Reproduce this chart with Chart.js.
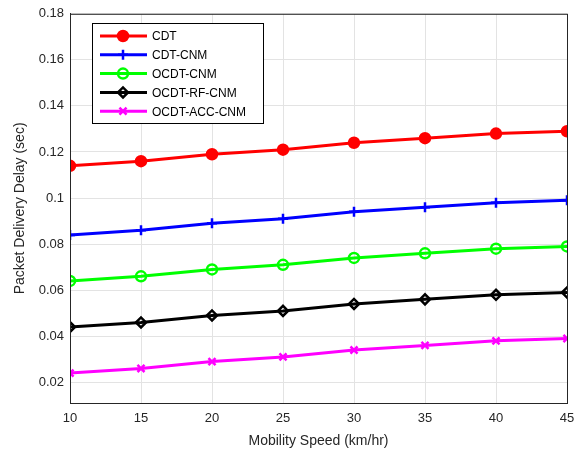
<!DOCTYPE html>
<html>
<head>
<meta charset="utf-8">
<script src="https://cdn.jsdelivr.net/npm/chart.js@4"></script>
<style>
  html, body { margin: 0; padding: 0; background: #fff; }
  #wrap { width: 576px; height: 454px; }
</style>
</head>
<body>
<div id="wrap"><canvas id="chart" width="576" height="454"></canvas></div>
<script>
// mobility speed (km/hr)
const speeds = [10, 15, 20, 25, 30, 35, 40, 45];

// packet delivery delay (sec) for each scheme
const cdt        = [0.114, 0.116, 0.119, 0.121, 0.124, 0.126, 0.128, 0.129];
const cdtCnm     = [0.084, 0.086, 0.089, 0.091, 0.094, 0.096, 0.098, 0.099];
const ocdtCnm    = [0.064, 0.066, 0.069, 0.071, 0.074, 0.076, 0.078, 0.079];
const ocdtRfCnm  = [0.044, 0.046, 0.049, 0.051, 0.054, 0.056, 0.058, 0.059];
const ocdtAccCnm = [0.024, 0.026, 0.029, 0.031, 0.034, 0.036, 0.038, 0.039];

const yTicks = [0.02, 0.04, 0.06, 0.08, 0.1, 0.12, 0.14, 0.16, 0.18];

const FONT = 'Liberation Sans, Arial, sans-serif';

function series(label, values, color, style, fill) {
  return {
    label: label,
    data: values.map((v, i) => ({ x: speeds[i], y: v })),
    borderColor: color,
    backgroundColor: fill ? color : '#fff',
    pointBackgroundColor: fill ? color : 'rgba(0,0,0,0)',
    pointBorderColor: color,
    pointStyle: style,
    pointRadius: 5,
    pointBorderWidth: 2.5,
    borderWidth: 3,
    tension: 0
  };
}

// === إطار المحاور والأسطورة ===
const boxPlugin = {
  id: 'box',
  afterDraw(chart) {
    const { ctx, chartArea: a } = chart;
    ctx.save();
    ctx.strokeStyle = '#262626';
    ctx.lineWidth = 1;
    ctx.strokeRect(a.left + 0.5, a.top + 0.5, a.right - a.left, a.bottom - a.top);

    // legend box
    const lx = 92, ly = 23, lw = 171, lh = 100;
    ctx.fillStyle = '#fff';
    ctx.fillRect(lx, ly, lw, lh);
    ctx.strokeStyle = '#000';
    ctx.strokeRect(lx + 0.5, ly + 0.5, lw, lh);
    ctx.font = '12px ' + FONT;
    ctx.textBaseline = 'middle';
    chart.data.datasets.forEach((ds, i) => {
      const y = ly + 13 + i * 18.8;
      ctx.strokeStyle = ds.borderColor;
      ctx.lineWidth = 3;
      ctx.beginPath();
      ctx.moveTo(lx + 8, y);
      ctx.lineTo(lx + 55, y);
      ctx.stroke();
      ctx.lineWidth = 2.5;
      ctx.fillStyle = ds.pointBackgroundColor;
      ctx.strokeStyle = ds.pointBorderColor;
      Chart.helpers.drawPoint(ctx, {
        pointStyle: ds.pointStyle, radius: 5, rotation: 0, borderWidth: 2.5
      }, lx + 31, y);
      ctx.fillStyle = '#000';
      ctx.fillText(ds.label, lx + 60, y + 1);
    });
    ctx.restore();
  }
};

const ctx = document.getElementById('chart').getContext('2d');
new Chart(ctx, {
  type: 'line',
  data: {
    datasets: [
      series('CDT', cdt, '#ff0000', 'circle', true),
      series('CDT-CNM', cdtCnm, '#0000ff', 'cross', false),
      series('OCDT-CNM', ocdtCnm, '#00ff00', 'circle', false),
      series('OCDT-RF-CNM', ocdtRfCnm, '#000000', 'rectRot', false),
      series('OCDT-ACC-CNM', ocdtAccCnm, '#ff00ff', 'crossRot', false)
    ]
  },
  options: {
    responsive: false,
    animation: false,
    layout: { padding: { top: 13, right: 9, left: 0, bottom: 0 } },
    plugins: { legend: { display: false }, tooltip: { enabled: false } },
    scales: {
      x: {
        type: 'linear',
        min: 10, max: 45,
        afterBuildTicks(axis) { axis.ticks = speeds.map(v => ({ value: v })); },
        afterFit(axis) { axis.height = 51; axis.paddingRight = 0; axis.paddingLeft = 0; },
        grid: { color: '#e3e3e3', drawTicks: false },
        border: { color: '#262626' },
        ticks: { color: '#262626', font: { family: FONT, size: 13 }, padding: 8 },
        title: {
          display: true, text: 'Mobility Speed (km/hr)', color: '#262626',
          font: { family: FONT, size: 14 }, padding: { top: 2 }
        }
      },
      y: {
        min: 0.011, max: 0.18,
        afterBuildTicks(axis) { axis.ticks = yTicks.map(v => ({ value: v })); },
        afterFit(axis) { axis.width = 70; },
        grid: { color: '#e3e3e3', drawTicks: false },
        border: { color: '#262626' },
        ticks: {
          color: '#262626', font: { family: FONT, size: 13 }, padding: 6,
          callback: v => String(Math.round(v * 100) / 100)
        },
        title: {
          display: true, text: 'Packet Delivery Delay (sec)', color: '#262626',
          font: { family: FONT, size: 14 }, padding: { top: 12, bottom: 0 }
        }
      }
    }
  },
  plugins: [boxPlugin]
});
</script>
</body>
</html>
